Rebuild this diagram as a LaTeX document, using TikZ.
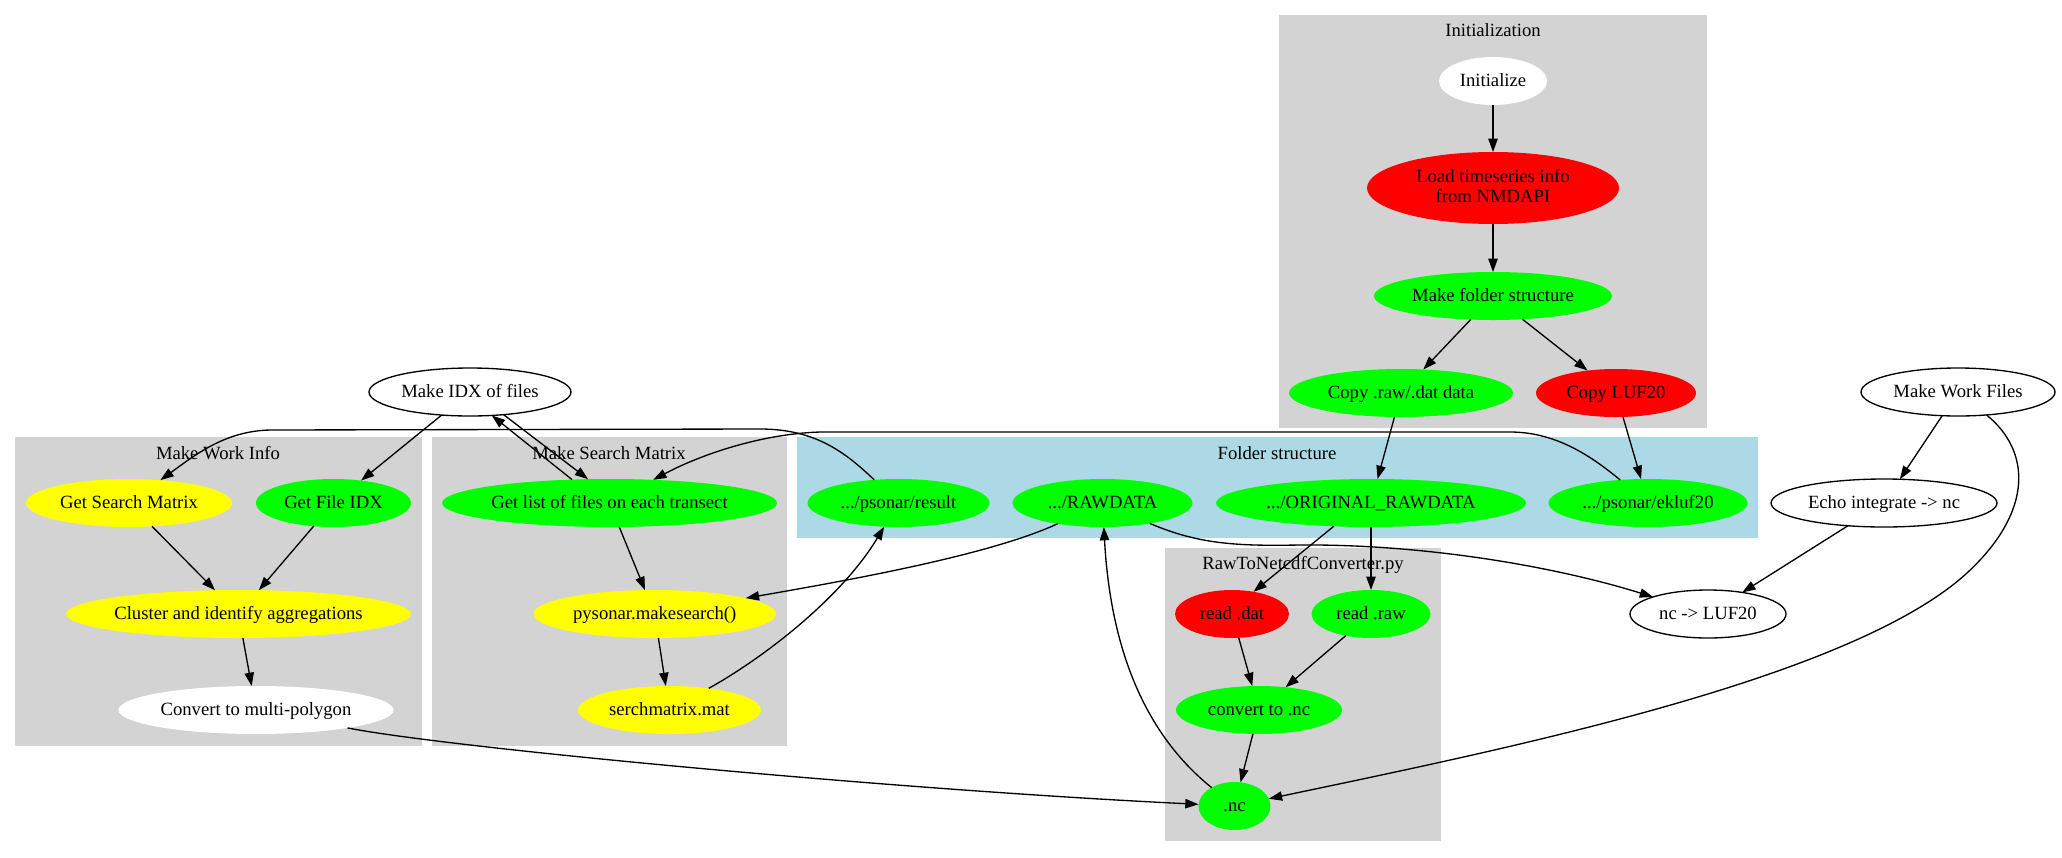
\documentclass[tikz,border=0pt]{standalone}
\usepackage{fontspec}
\setmainfont{Liberation Serif}
\usetikzlibrary{shapes.geometric,arrows.meta}
\definecolor{gvgreen}{HTML}{00FF00}
\definecolor{gvred}{HTML}{FF0000}
\definecolor{gvyellow}{HTML}{FFFF00}
\definecolor{gvgrey}{HTML}{D3D3D3}
\definecolor{gvblue}{HTML}{ADD8E6}
\newcommand\gvtext[1]{\makebox[0pt]{#1}}
\begin{document}
\begin{tikzpicture}[x=0.75pt,y=-0.75pt,
  every node/.style={font=\fontsize{14}{15}\selectfont},
  gv/.style={ellipse, inner sep=0pt, outer sep=0pt, minimum height=36pt,
             text height=11pt, text depth=2.8pt},
  hw/.style={minimum width=#1*1.5pt},
  green/.style={gv, fill=gvgreen},
  red/.style={gv, fill=gvred},
  yellow/.style={gv, fill=gvyellow},
  blank/.style={gv, fill=white},
  plain/.style={gv, draw=black, line width=1pt, fill=white},
  clabel/.style={anchor=base, inner sep=0pt},
  conn/.style={-{Triangle[length=10pt,width=7pt]}, line width=1pt}]
\useasboundingbox (0,0) rectangle (2062,857);

% cluster backgrounds and titles
\fill[gvgrey] (1279,15) rectangle (1707,428);
\node[clabel] (tinit) at (1493,36) {Initialization};
\fill[gvgrey] (15,437) rectangle (422,746);
\node[clabel] (twork) at (218,459) {Make Work Info};
\fill[gvgrey] (432,437) rectangle (787,746);
\node[clabel] (tsearch) at (609,459) {Make Search Matrix};
\fill[gvblue] (797,437) rectangle (1758,538);
\node[clabel] (tfolder) at (1277,459) {Folder structure};
\fill[gvgrey] (1165,548) rectangle (1441,841);
\node[clabel] (tconv) at (1303,569) {RawToNetcdfConverter.py};

% Initialization
\node[blank, hw=54] (init) at (1493,81) {\gvtext{Initialize}};
\node[red, hw=126, minimum height=54pt, text height={}, text depth={}] (load) at (1493,188)
  {\gvtext{\begin{tabular}{@{}c@{}}Load timeseries info\\ from NMDAPI\end{tabular}}};
\node[green, hw=119] (mkfold) at (1493,296) {\gvtext{Make folder structure}};
\node[green, hw=112] (cpraw) at (1401,393) {\gvtext{Copy .raw/.dat data}};
\node[red, hw=80] (cpluf) at (1616,393) {\gvtext{Copy LUF20}};

% free nodes
\node[plain, hw=101] (idx) at (470,392) {\gvtext{Make IDX of files}};
\node[plain, hw=97] (mwf) at (1958,392) {\gvtext{Make Work Files}};
\node[plain, hw=113] (echo) at (1884,503) {\gvtext{Echo integrate -> nc}};
\node[plain, hw=78] (luf) at (1708,614) {\gvtext{nc -> LUF20}};

% Make Work Info
\node[yellow, hw=103] (gsm) at (129,503) {\gvtext{Get Search Matrix}};
\node[green, hw=77.5] (gfi) at (333.5,503) {\gvtext{Get File IDX}};
\node[yellow, hw=172.5] (clu) at (238.5,614) {\gvtext{Cluster and identify aggregations}};
\node[blank, hw=137.5] (conv) at (256,710) {\gvtext{Convert to multi-polygon}};

% Make Search Matrix
\node[green, hw=167.5] (glist) at (609.5,503) {\gvtext{Get list of files on each transect}};
\node[yellow, hw=121.3] (pms) at (654.7,614) {\gvtext{pysonar.makesearch()}};
\node[yellow, hw=91.5] (smat) at (669.5,710) {\gvtext{serchmatrix.mat}};

% Folder structure
\node[green, hw=91] (pres) at (898.5,503) {\gvtext{.../psonar/result}};
\node[green, hw=90] (raw) at (1102.5,503) {\gvtext{.../RAWDATA}};
\node[green, hw=155] (orig) at (1371,503) {\gvtext{.../ORIGINAL\_RAWDATA}};
\node[green, hw=99.5] (ekl) at (1648,503) {\gvtext{.../psonar/ekluf20}};

% RawToNetcdfConverter.py
\node[red, hw=57] (rdat) at (1232,614) {\gvtext{read .dat}};
\node[green, hw=59.5] (rraw) at (1371,614) {\gvtext{read .raw}};
\node[green, hw=83] (cnc) at (1259,710) {\gvtext{convert to .nc}};
\node[green, hw=36] (nc) at (1234.5,806) {\gvtext{.nc}};

% connectors
\draw[conn] (init) -- (load);
\draw[conn] (load) -- (mkfold);
\draw[conn] (mkfold) -- (cpraw);
\draw[conn] (mkfold) -- (cpluf);
\draw[conn] (cpraw) -- (orig);
\draw[conn] (cpluf) -- (ekl);
\draw[conn] (idx) -- (gfi);
\draw[conn] (idx.-34) -- (glist.132);
\draw[conn] (glist.148) -- (idx.-47);
\draw[conn] (pres) .. controls (845,452) and (815,429) .. (760,429)
  -- (270,430) .. controls (225,431) and (195,455) .. (gsm);
\draw[conn] (ekl) .. controls (1590,455) and (1555,432) .. (1510,432)
  -- (820,432) .. controls (760,434) and (700,455) .. (glist);
\draw[conn] (gsm) -- (clu);
\draw[conn] (gfi) -- (clu);
\draw[conn] (clu) -- (conv);
\draw[conn] (conv) .. controls (450,748) and (900,790) .. (nc);
\draw[conn] (glist) -- (pms);
\draw[conn] (raw) .. controls (990,555) and (850,580) .. (pms);
\draw[conn] (pms) -- (smat);
\draw[conn] (smat) .. controls (760,660) and (840,600) .. (pres);
\draw[conn] (orig.212) -- (rdat.46);
\draw[conn] (orig) -- (rraw);
\draw[conn] (rdat) -- (cnc);
\draw[conn] (rraw) -- (cnc);
\draw[conn] (cnc) -- (nc);
\draw[conn] (nc) .. controls (1140,730) and (1110,640) .. (raw);
\draw[conn] (raw) .. controls (1200,545) and (1240,546) .. (1300,545)
  .. controls (1420,544) and (1550,565) .. (luf);
\draw[conn] (mwf) -- (echo);
\draw[conn] (mwf) .. controls (2030,450) and (2035,510) .. (1967,573)
  .. controls (1850,680) and (1500,750) .. (nc);
\draw[conn] (echo) -- (luf);
\end{tikzpicture}
\end{document}
